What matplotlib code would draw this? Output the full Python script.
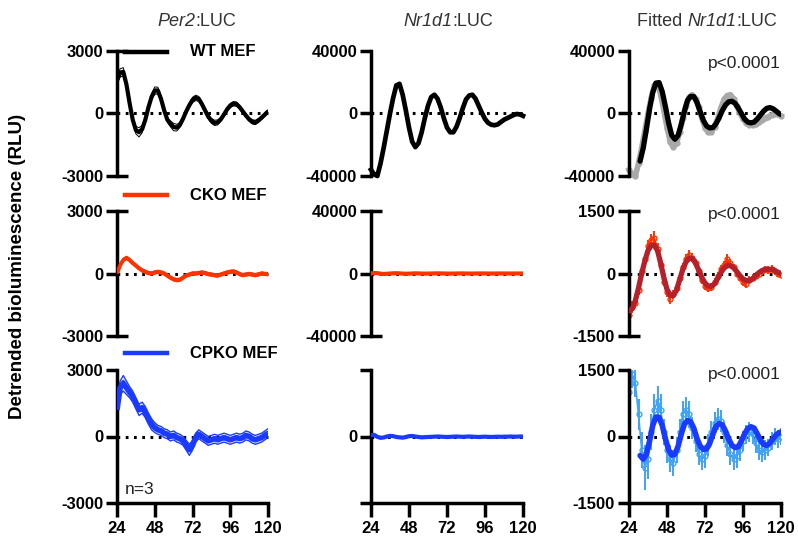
import numpy as np
import matplotlib
matplotlib.use("Agg")
import matplotlib.pyplot as plt
from matplotlib.lines import Line2D

plt.rcParams['font.family'] = ['Liberation Sans', 'DejaVu Sans']

# ---------------- data ----------------
hours = list(range(24, 121, 2))

# WT Per2:LUC (mean of n=3) and replicate spread
wt_per2 = [1600, 1950, 2000, 1400, 500, -300, -800, -900, -750, -300, 300, 800, 1100,
           1100, 700, 150, -300, -500, -650, -680, -550, -250, 100, 400, 650, 750, 700,
           450, 150, -150, -350, -450, -430, -280, -50, 200, 380, 470, 450, 300, 100,
           -100, -280, -400, -430, -330, -200, -50, 100]
wt_per2_sd = [250, 250, 250, 200, 150, 150, 220, 280, 220, 150, 150, 180, 220,
              200, 150, 120, 130, 180, 220, 200, 150, 120, 120, 140, 160, 160, 150,
              120, 110, 120, 150, 160, 150, 120, 110, 120, 130, 130, 130, 110, 100,
              100, 110, 130, 130, 120, 100, 100, 100]

# WT Nr1d1:LUC
wt_nr1d1 = [-36000, -39000, -40000, -32000, -22000, -11000, 0, 10000, 18000, 19000, 12000,
            2000, -9000, -18000, -21500, -19000, -12000, -3000, 5000, 10500, 12000, 9500,
            4000, -3000, -9000, -12000, -12000, -8500, -3000, 3500, 9000, 11500, 12000,
            9500, 5000, 500, -3500, -6000, -7200, -7500, -7000, -5500, -4000, -3000, -2000,
            -1000, -300, -600, -1500]

# fitted WT Nr1d1
fit_hours = [31, 33, 35, 37, 39, 41, 43, 45, 47, 49, 51, 53, 55, 57, 59, 61, 63, 65, 67, 69,
             71, 73, 75, 77, 79, 81, 83, 85, 87, 89, 91, 93, 95, 97, 99, 101, 103, 105, 107,
             109, 111, 113, 115, 117, 119, 120]
wt_fit = [-30500, -22000, -10000, 3000, 13500, 19500, 19800, 14000, 4500, -6000, -14000,
          -16500, -14000, -7000, 1500, 8500, 11000, 10800, 7000, 1000, -4500, -8000, -9200,
          -9000, -6500, -2500, 2000, 5500, 7500, 7800, 6500, 3500, 0, -3500, -5500, -6000,
          -5500, -3500, -1000, 1500, 3300, 3800, 3000, 1500, -200, -600]

# CKO Per2:LUC
cko_per2 = [0, 400, 650, 750, 650, 500, 380, 250, 150, 80, 20, 0, 50, 80, 50, 0, -100,
            -200, -280, -320, -300, -200, -100, -50, 0, 0, 20, 50, 20, -30, -50, -80, -100,
            -50, 0, 50, 80, 100, 50, -30, -80, -50, -20, -50, -80, -40, 0, -20, -30]

# CKO Nr1d1:LUC
cko_nr1d1 = [0, 300, 200, -100, -300, -200, 0, 100, 200, 100, -100, -200, -100, 0, 100,
             50, -50, -100, -50, 0, 50, 100, 50, 0, -50, -80, -50, 0, 50, 50, 0, -30, -50,
             0, 30, 50, 20, 0, -20, -30, 0, 20, 30, 0, -20, 0, 10, 0, 0]

# CKO fitted panel: data mean, SEM, and fit
cko_data = [-1000, -800, -700, -400, 50, 350, 650, 800, 850, 600, 200, -200, -450, -600,
            -500, -350, -100, 150, 350, 450, 380, 250, 50, -150, -300, -350, -330, -200, -50,
            100, 200, 350, 250, 150, 0, -100, -200, -250, -150, -100, -50, 0, 50, 100, 80,
            120, 50, 0, -30]
cko_err = [150, 150, 120, 120, 120, 130, 150, 150, 160, 130, 120, 110, 110, 120, 110, 100,
           100, 100, 110, 120, 110, 100, 100, 100, 100, 100, 100, 90, 90, 100, 110, 120,
           100, 90, 90, 90, 90, 90, 90, 80, 80, 80, 80, 90, 90, 90, 80, 80, 80]
cko_fit = [-900, -850, -650, -350, 0, 300, 550, 670, 680, 550, 250, -100, -380, -520, -530,
           -400, -150, 100, 280, 360, 360, 250, 80, -100, -230, -300, -310, -250, -120, 20,
           130, 185, 190, 140, 50, -50, -130, -170, -170, -130, -60, 20, 70, 100, 100, 100,
           70, 30, 0]

# CPKO Per2:LUC
cpko_per2 = [1200, 2200, 2400, 2200, 2000, 1800, 1500, 1200, 1300, 1100, 800, 550, 400, 300,
             250, 150, 100, 0, 50, -50, -100, -200, -400, -600, -400, -50, 100, 0, -100,
             -200, -150, -100, -150, -100, -50, -100, -150, -100, -50, -100, -50, 50, 0,
             -100, -150, -100, -50, 50, 150]
cpko_per2_sd = [300, 300, 350, 300, 250, 250, 250, 250, 250, 250, 250, 250, 220, 200, 200,
                200, 200, 200, 200, 200, 200, 200, 220, 250, 220, 200, 200, 200, 200, 200,
                200, 200, 200, 200, 200, 200, 200, 200, 200, 200, 200, 200, 200, 200, 200,
                200, 200, 200, 200]

# CPKO Nr1d1:LUC
cpko_nr1d1 = [800, 1000, -200, -800, -600, 0, 400, 200, -300, -500, -700, -300, 200, 300, 0,
              -300, -500, -400, -300, -200, -100, 0, -100, -200, -300, -200, -100, 0, -100,
              -200, -100, 0, -100, -200, -300, -200, -100, -200, -300, -200, -100, -200,
              -100, -100, 0, -100, -100, 0, 0]

# CPKO fitted panel: data mean, SEM, and fit
cpko_data = [1000, 1400, 1200, 500, -300, -700, -500, 100, 600, 800, 600, 100, -300, -500,
             -600, -300, 100, 500, 600, 500, 200, -100, -400, -500, -450, -200, 100, 300, 400,
             350, 100, -200, -400, -500, -450, -300, -100, 50, 100, 50, -150, -300, -350,
             -300, -250, -100, 0, -50, 0]
cpko_err = [300, 300, 300, 350, 400, 500, 450, 400, 350, 350, 350, 300, 300, 300, 300, 300,
            300, 300, 300, 300, 250, 250, 250, 250, 250, 250, 250, 250, 250, 250, 250, 250,
            250, 250, 250, 250, 220, 220, 220, 220, 220, 220, 220, 220, 200, 200, 200, 200,
            200]
cpko_fit = [-430, -510, -400, -100, 250, 440, 430, 250, -50, -300, -420, -400, -220, 50, 280,
            360, 330, 180, -50, -220, -290, -280, -150, 50, 230, 290, 260, 120, -60, -200,
            -250, -230, -100, 60, 180, 220, 190, 60, -80, -180, -200, -150, -50, 40, 90, 100]

xticks = [24, 48, 72, 96, 120]
# title pieces: (prefix normal, italic gene, suffix normal)
col_titles = [("", "Per2", ":LUC"), ("", "Nr1d1", ":LUC"), ("Fitted ", "Nr1d1", ":LUC")]
group_labels = ["WT MEF", "CKO MEF", "CPKO MEF"]
ylims = [[3000, 40000, 40000],
         [3000, 40000, 1500],
         [3000, 40000, 1500]]
show_top_label = [[True, True, True], [True, True, True], [True, False, True]]

# ---------------- colours / style ----------------
BLACK = "#000000"
RED = "#FF3300"
DKRED = "#B5202B"
BLUE = "#1A3BFF"
LTBLUE = "#3FA3F5"
GRAY = "#A9A9A9"

W, H = 798, 538
fig = plt.figure(figsize=(W / 100, H / 100), dpi=100)

cols_px = [(117, 268), (371, 523), (629, 781)]
rows_px = [(51, 176), (211, 336), (370, 503)]

axes = [[None] * 3 for _ in range(3)]
for r in range(3):
    for c in range(3):
        x0, x1 = cols_px[c]
        y0, y1 = rows_px[r]
        ax = fig.add_axes([x0 / W, 1 - y1 / H, (x1 - x0) / W, (y1 - y0) / H])
        axes[r][c] = ax
        lim = ylims[r][c]
        ax.set_xlim(24, 120)
        ax.set_ylim(-lim, lim)
        for s in ["top", "right"]:
            ax.spines[s].set_visible(False)
        ax.spines["left"].set_linewidth(2.5)
        ax.spines["bottom"].set_linewidth(2.5)
        ax.patch.set_alpha(0)
        ax.set_yticks([0])
        ax.set_yticklabels(["0"])
        ax.set_yticks([-lim, lim], minor=True)
        lab_top = str(lim) if show_top_label[r][c] else ""
        lab_bot = "" if (r == 2 and c == 1) else str(-lim)
        ax.set_yticklabels([lab_bot, lab_top], minor=True)
        ax.tick_params(axis="y", which="major", direction="out", length=8, width=2.5,
                       labelsize=12, pad=2)
        ax.tick_params(axis="y", which="minor", direction="inout", length=16, width=2.5,
                       labelsize=12, pad=2)
        for lab in ax.get_yticklabels(which="both"):
            lab.set_fontweight("bold")
        if r < 2:
            ax.spines["bottom"].set_visible(False)
            ax.set_xticks([])
        else:
            ax.set_xticks(xticks)
            ax.tick_params(axis="x", direction="out", length=10, width=2.5,
                           labelsize=12, pad=3)
            for lab in ax.get_xticklabels():
                lab.set_fontweight("bold")
            ax.tick_params(axis="y", which="minor", direction="out", length=8)
        ax.plot([24, 120], [0, 0], color="black", lw=2.2, ls=(0, (0.9, 1.8)),
                zorder=1, clip_on=False)

axes[0][1].tick_params(axis="y", which="minor", direction="out", length=8)
axes[0][2].tick_params(axis="y", which="minor", direction="out", length=8)

# ---------- column 1: Per2 ----------
def rep_lines(ax, x, m, sd, color, lw_main, lw_thin=0.7):
    m = np.array(m); sd = np.array(sd)
    ax.plot(x, m + sd, color=color, lw=lw_thin, zorder=2)
    ax.plot(x, m - sd, color=color, lw=lw_thin, zorder=2)
    ax.plot(x, m + 0.4 * sd, color=color, lw=lw_thin, zorder=2)
    ax.plot(x, m, color=color, lw=lw_main, zorder=3, solid_capstyle="butt")

rep_lines(axes[0][0], hours, wt_per2, np.array(wt_per2_sd) * 0.8, BLACK, 3.0)
rep_lines(axes[1][0], hours, cko_per2, [70] * len(hours), RED, 2.8, 1.0)
rep_lines(axes[2][0], hours, cpko_per2, cpko_per2_sd, BLUE, 4.0, 1.0)

# ---------- column 2: Nr1d1 ----------
axes[0][1].plot(hours, wt_nr1d1, color=BLACK, lw=3.4, zorder=3, clip_on=False)
axes[1][1].plot(hours, cko_nr1d1, color=RED, lw=3.0, zorder=3)
axes[2][1].plot(hours, cpko_nr1d1, color=BLUE, lw=3.0, zorder=3)

# ---------- column 3: fitted ----------
ax = axes[0][2]
ax.plot(hours, wt_nr1d1, color=GRAY, lw=4.0, zorder=2, clip_on=False)
ax.plot(hours, wt_nr1d1, ls="none", marker="o", ms=3.5, mfc="none", mec=GRAY, mew=1,
        zorder=2, clip_on=False)
ax.plot(fit_hours, wt_fit, color=BLACK, lw=3.8, zorder=3, solid_capstyle="round")

ax = axes[1][2]
ax.errorbar(hours, cko_data, yerr=cko_err, color=RED, lw=1.2, elinewidth=1.4, capsize=0,
            marker="o", ms=3.5, mfc="none", mec=RED, mew=1, zorder=2)
ax.plot(hours, cko_fit, color=DKRED, lw=3.8, zorder=3, solid_capstyle="round")

ax = axes[2][2]
ax.errorbar(hours, cpko_data, yerr=cpko_err, color=LTBLUE, lw=1.2, elinewidth=1.4,
            capsize=0, marker="o", ms=3.5, mfc="none", mec=LTBLUE, mew=1, zorder=2)
ax.plot(fit_hours, cpko_fit, color=BLUE, lw=4.0, zorder=3, solid_capstyle="round")

# ---------- text ----------
renderer = fig.canvas.get_renderer()
title_x = [197, 448, 707]
for c in range(3):
    pieces = col_titles[c]
    styles = ["normal", "italic", "normal"]
    arts = []
    for txt, st in zip(pieces, styles):
        t = fig.text(0, 1 - 21 / H, txt, ha="left", va="center", fontsize=13,
                     color="#333333", fontstyle=st)
        arts.append(t)
    widths = [a.get_window_extent(renderer).width if a.get_text() else 0 for a in arts]
    total = sum(widths)
    x = title_x[c] - total / 2
    for a, w in zip(arts, widths):
        a.set_x(x / W)
        x += w

legend_y = [52, 195, 353]
legend_col = [BLACK, RED, BLUE]
for i in range(3):
    yy = 1 - legend_y[i] / H
    fig.add_artist(Line2D([125 / W, 167 / W], [yy, yy], color=legend_col[i], lw=3.2))
    fig.text(190 / W, yy, group_labels[i], ha="left", va="center", fontsize=12,
             fontweight="bold")

p_y = [64, 215, 375]
for r in range(3):
    fig.text(781 / W, 1 - p_y[r] / H, "p<0.0001", ha="right", va="center", fontsize=12.5,
             color="#222222")

fig.text(125 / W, 1 - 490 / H, "n=3", ha="left", va="center", fontsize=12.5, color="#222222")

fig.text(18 / W, 1 - 266 / H, "Detrended bioluminescence (RLU)", rotation=90,
         ha="center", va="center", fontsize=13.5, fontweight="bold")

fig.savefig("out.png", dpi=100)
